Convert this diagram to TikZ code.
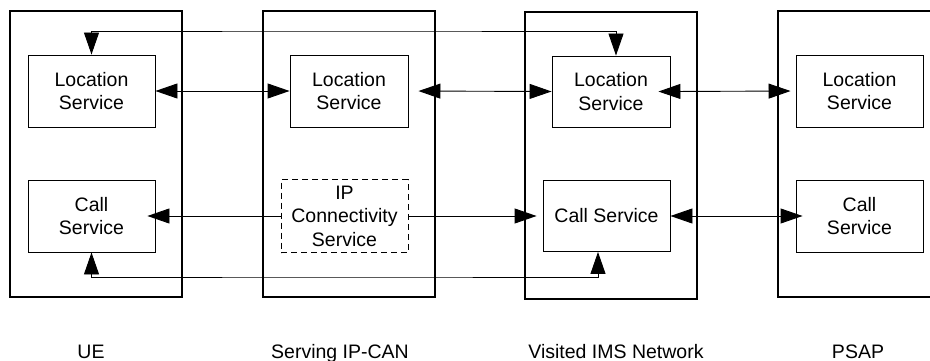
\documentclass[tikz,border=0pt]{standalone}
\usepackage{fontspec}
\setmainfont{Liberation Sans}
\usetikzlibrary{arrows.meta}

\tikzset{
	netbox/.style={draw, line width=1.1pt, minimum width=172pt, inner sep=0pt},
	svcbox/.style={draw, line width=0.9pt, minimum width=127pt, minimum height=72pt, inner sep=0pt, align=center,
		font=\fontsize{19.5}{23.5}\selectfont},
	ipbox/.style={svcbox, dash pattern=on 6pt off 4pt},
	netlabel/.style={anchor=base, font=\fontsize{19.5}{23.5}\selectfont},
	link/.style={line width=0.9pt, {Triangle[length=22pt,width=15pt]}-{Triangle[length=22pt,width=15pt]}},
	onelink/.style={line width=0.9pt, -{Triangle[length=22pt,width=15pt]}}
}

\begin{document}
\begin{tikzpicture}[x=1pt, y=-1pt]
				\useasboundingbox (0,0) rectangle (930,361);
				\clip (0,0) rectangle (930,361);
				% Networks
				\node[netbox, minimum height=286pt] (ue) at (96,154) {};
				\node[netbox, minimum height=286pt] (serving) at (349,154) {};
				\node[netbox, minimum height=287pt] (visited) at (611,155.5) {};
				\node[netbox, minimum height=286pt] (psap) at (864,154) {};
				% Services
				\node[svcbox] (ueloc) at (91.5,91) {Location\\Service};
				\node[svcbox, minimum width=118pt] (servloc) at (349,91) {Location\\Service};
				\node[svcbox, minimum width=118pt, minimum height=71pt] (visloc) at (611,91.5) {Location\\Service};
				\node[svcbox] (psaploc) at (859.5,91) {Location\\Service};
				\node[svcbox] (uecall) at (91.5,216) {Call\\Service};
				\node[ipbox, minimum height=73pt] (ipcs) at (344.5,216) {IP\\Connectivity\\Service};
				\node[svcbox, minimum height=71pt] (viscall) at (606.5,216) {Call Service};
				\node[svcbox] (psapcall) at (859.5,216) {Call\\Service};
				% Network labels
				\node[netlabel] (uelabel) at (91,358) {UE};
				\node[netlabel] (servlabel) at (340,358) {Serving IP-CAN};
				\node[netlabel] (vislabel) at (616,358) {Visited IMS Network};
				\node[netlabel] (psaplabel) at (858,358) {PSAP};
				% Links
				\draw[link] (ueloc.east) -- (servloc.west);
				\draw[link, shorten <=10pt] (servloc.east) -- (visloc.west);
				\draw[link, shorten <=-12pt, shorten >=5pt] (visloc.east) -- (psaploc.west);
				\draw[onelink, shorten >=-8pt] (ipcs.west) -- (uecall.east);
				\draw[onelink, shorten >=6pt] (ipcs.east) -- (viscall.west);
				\draw[link, shorten >=-7pt] (viscall.east) -- (psapcall.west);
				% Rails
				\coordinate (toprail) at (350,31);
				\coordinate (botrail) at (350,277);
				\draw[link] (ueloc.north) |- (toprail) -| ([xshift=5pt]visloc.north);
				\draw[link] (uecall.south) |- (botrail) -| ([xshift=-8.5pt]viscall.south);
			\end{tikzpicture}
\end{document}
